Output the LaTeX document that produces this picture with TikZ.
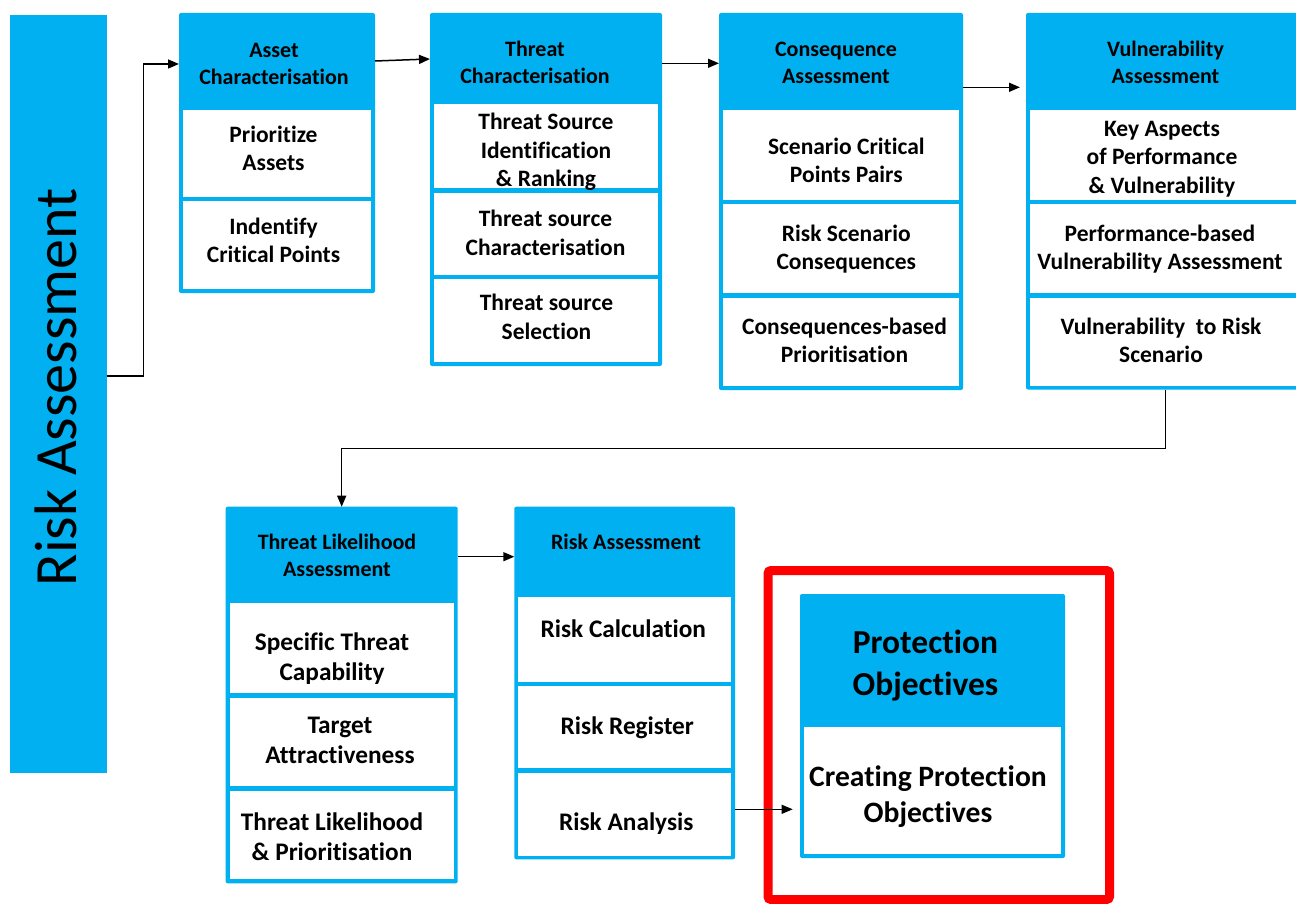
\documentclass[tikz,border=0pt]{standalone}
\usepackage{fontspec}
\setmainfont{Carlito}[Ligatures={NoCommon}]
\usetikzlibrary{arrows.meta,fit}
\definecolor{ablue}{HTML}{00B0F0}
\definecolor{fred}{HTML}{FF0000}
\newcommand\hdf{\fontsize{22}{27}\selectfont\bfseries}
\newcommand\bdf{\fontsize{23.5}{28.3}\selectfont\bfseries}
\newcommand\bdl{\fontsize{25.3}{30}\selectfont\bfseries}
\tikzset{
  outerbox/.style={fill=ablue, draw=none, inner sep=0pt, outer sep=0pt, rounded corners=2pt},
  cellbox/.style={fill=white, draw=none, inner sep=0pt, outer sep=0pt},
  hdtxt/.style={font=\hdf, align=center, inner sep=0pt},
  bdtxt/.style={font=\bdf, align=center, inner sep=0pt},
  bltxt/.style={font=\bdl, align=center, inner sep=0pt},
  arr/.style={-{Triangle[length=11pt,width=9pt]}, line width=1.5pt, black},
}
\begin{document}
\begin{tikzpicture}[x=1pt,y=-1pt]
\useasboundingbox[fill=white] (0,0) rectangle (1296,904);

% left bar
\node[outerbox, rounded corners=0pt, fit={(10,15)(106.7,772.7)}] (bar) {};
\node[rotate=90, anchor=base, inner sep=0pt, font=\fontsize{60}{72}\selectfont] (barT) at (76,387.5) {Risk Assessment};

% Asset
\node[outerbox, fit={(179,13)(375,293)}] (asset) {};
\node[cellbox, fit={(183,110)(371,197)}] (asset1) {};
\node[cellbox, fit={(183,201.5)(371,289)}] (asset2) {};
\node[hdtxt] (assetT) at (274,63.7) {Asset\\Characterisation};
\node[bdtxt] (asset1T) at (273.5,148.3) {Prioritize\\Assets};
\node[bdtxt] (asset2T) at (273.5,240.5) {Indentify\\Critical Points};

% Threat
\node[outerbox, fit={(430,13)(662,366)}] (threat) {};
\node[cellbox, fit={(434,104)(658,188.3)}] (threat1) {};
\node[cellbox, fit={(434,192.7)(658,275)}] (threat2) {};
\node[cellbox, fit={(434,279.3)(658,361.7)}] (threat3) {};
\node[hdtxt] (threatT) at (535,62.5) {Threat\\Characterisation};
\node[bdtxt] (threat1T) at (546,151.8) {Threat Source\\Identification\\\& Ranking};
\node[bdtxt] (threat2T) at (545.5,232.8) {Threat source\\Characterisation};
\node[bdtxt] (threat3T) at (546.5,316.7) {Threat source\\Selection};

% Consequence
\node[outerbox, fit={(719,13)(963,390)}] (cons) {};
\node[cellbox, fit={(723,110)(959,200)}] (cons1) {};
\node[cellbox, fit={(723,204)(959,293.3)}] (cons2) {};
\node[cellbox, fit={(723,297.7)(959,386)}] (cons3) {};
\node[hdtxt] (consT) at (836,63) {Consequence\\Assessment};
\node[bdtxt] (cons1T) at (846.3,160) {Scenario Critical\\Points Pairs};
\node[bdtxt] (cons2T) at (846.3,249.3) {Risk Scenario\\Consequences};
\node[bdtxt] (cons3T) at (844.5,340.5) {Consequences-based\\Prioritisation};

% Vulnerability
\node[outerbox, fit={(1026,13)(1300,389.5)}] (vuln) {};
\node[cellbox, fit={(1030,110)(1296,200)}] (vuln1) {};
\node[cellbox, fit={(1030,204)(1296,293.3)}] (vuln2) {};
\node[cellbox, fit={(1030,297.7)(1296,385.5)}] (vuln3) {};
\node[hdtxt] (vulnT) at (1165.5,62.5) {Vulnerability\\Assessment};
\node[bdtxt] (vuln1T) at (1162,159) {Key Aspects\\of Performance\\\& Vulnerability};
\node[bdtxt] (vuln2T) at (1160,249) {Performance-based\\Vulnerability Assessment};
\node[bdtxt] (vuln3T) at (1161,340.5) {Vulnerability\ \ to Risk\\Scenario};

% Threat Likelihood
\node[outerbox, fit={(225.7,506.7)(457.7,883.3)}] (tl) {};
\node[cellbox, fit={(229.7,603.3)(453.7,693.3)}] (tl1) {};
\node[cellbox, fit={(229.7,697.7)(453.7,786)}] (tl2) {};
\node[cellbox, fit={(229.7,791)(453.7,879.3)}] (tl3) {};
\node[hdtxt] (tlT) at (337,555) {Threat Likelihood\\Assessment};
\node[bltxt] (tl1T) at (332,658.5) {Specific Threat\\Capability};
\node[bltxt] (tl2T) at (340,740) {Target\\Attractiveness};
\node[bltxt] (tl3T) at (332,836.3) {Threat Likelihood\\\& Prioritisation};

% Risk Assessment
\node[outerbox, fit={(514.3,506.7)(735,859.3)}] (ra) {};
\node[cellbox, fit={(518.3,597.3)(731,681.7)}] (ra1) {};
\node[cellbox, fit={(518.3,686)(731,768.3)}] (ra2) {};
\node[cellbox, fit={(518.3,772.7)(731,855.7)}] (ra3) {};
\node[hdtxt] (raT) at (626,541.8) {Risk Assessment};
\node[bltxt] (ra1T) at (623.3,628.7) {Risk Calculation};
\node[bltxt] (ra2T) at (627.3,727.5) {Risk Register};
\node[bltxt] (ra3T) at (626.3,823.8) {Risk Analysis};

% Protection Objectives
\node[draw=fred, line width=9pt, rounded corners=3pt, inner sep=0pt, fit={(768,570.5)(1109.5,899.5)}] (frame) {};
\node[outerbox, fit={(800,594)(1065,858)}] (po) {};
\node[cellbox, fit={(804,727)(1061,854)}] (po1) {};
\node[align=center, inner sep=0pt, font=\fontsize{33.5}{42}\selectfont\bfseries] (poT) at (925.5,666) {Protection\\Objectives};
\node[align=center, inner sep=0pt, font=\fontsize{29.6}{35.5}\selectfont\bfseries] (po1T) at (928,796.5) {Creating Protection\\Objectives};

% connectors
\draw[arr] (bar.east |- 0,376) -| (143.3,64) -- (asset.west |- 0,64);
\draw[arr] (asset.east |- 0,61) -- (threat.west |- 0,59);
\draw[arr] (threat.east |- 0,63.3) -- (cons.west |- 0,63.3);
\draw[arr, shorten >=6pt] (cons.east |- 0,87.3) -- (vuln.west |- 0,87.3);
\draw[arr] ([xshift=2.7pt]vuln.south) |- (tl.north |- 0,448.3) -- (tl.north);
\draw[arr] (tl.east |- 0,556.7) -- (ra.west |- 0,556.7);
\draw[arr, line width=1.2pt, shorten >=7.3pt] (ra.east |- 0,809.3) -- (po.west |- 0,809.3);
\end{tikzpicture}
\end{document}
